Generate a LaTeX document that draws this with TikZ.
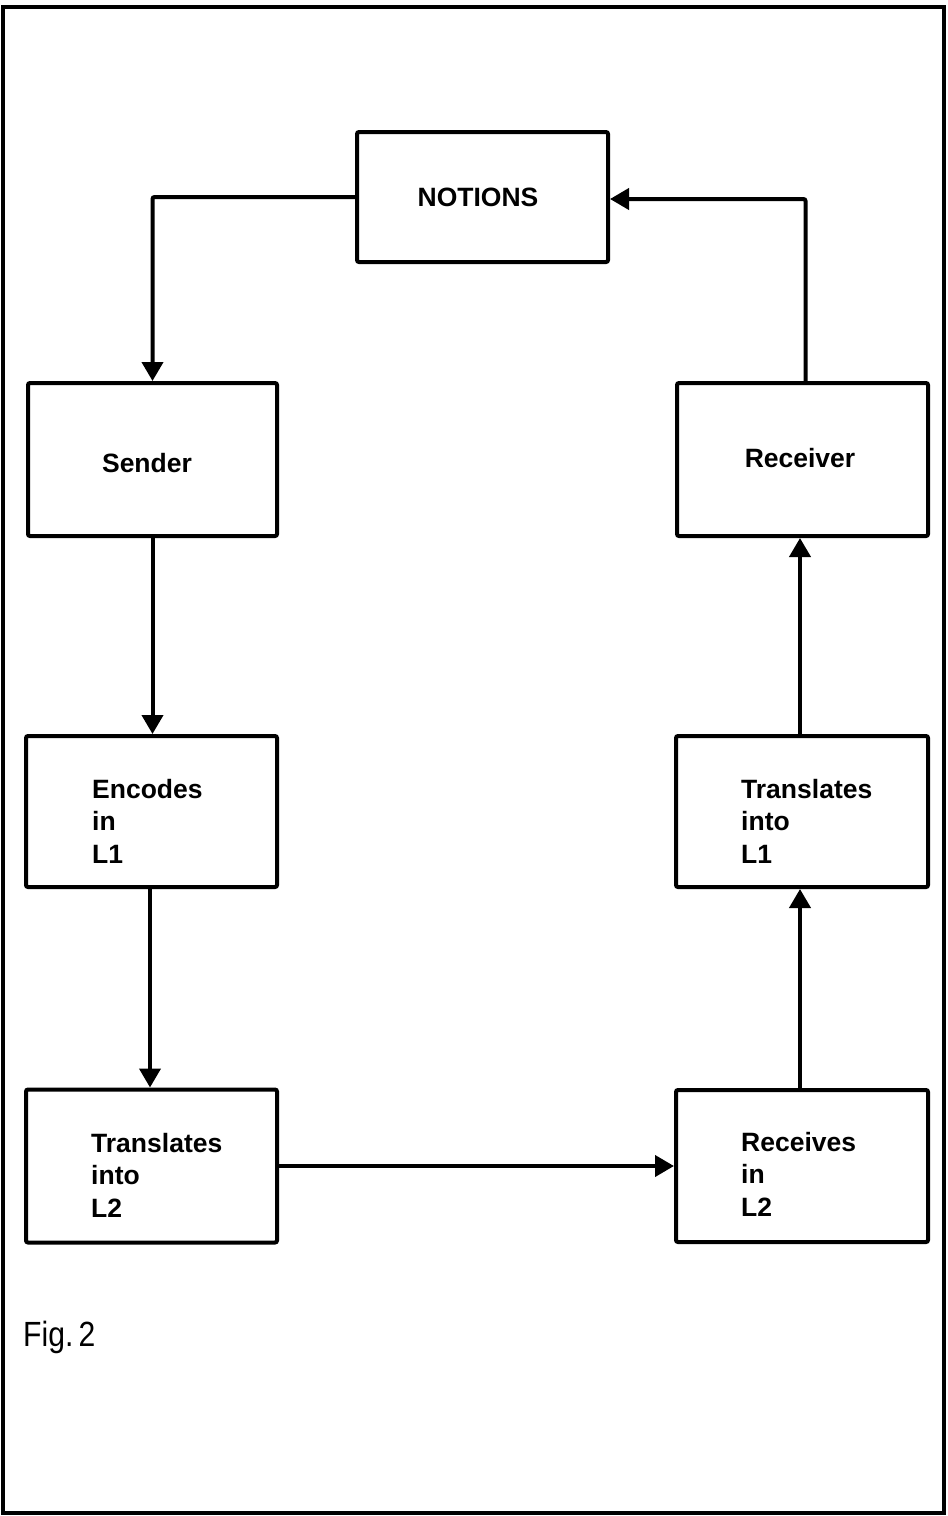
\documentclass[tikz,border=0pt]{standalone}
\usepackage{fontspec}
\setmainfont{Liberation Sans}
\usetikzlibrary{arrows.meta}
\begin{document}
\begin{tikzpicture}[x=1pt,y=-1pt,
  box/.style={draw,line width=4pt,rounded corners=2pt,inner sep=0pt},
  lbl/.style={font=\fontsize{26.5}{32.5}\selectfont\bfseries,inner sep=0pt,align=left},
  conn/.style={line width=4pt,rounded corners=2pt,-{Triangle[length=19pt,width=21pt]}}]
\useasboundingbox (0,0) rectangle (948,1516);
\draw[line width=4pt] (3,1513) -- (3,7) -- (944,7) -- (944,1513) -- cycle;
% boxes
\node[box,minimum width=251pt,minimum height=130pt] (notions) at (482.5,197) {};
\node[box,minimum width=249pt,minimum height=153pt] (sender) at (152.5,459.5) {};
\node[box,minimum width=251pt,minimum height=153pt] (receiver) at (802.5,459.5) {};
\node[box,minimum width=251pt,minimum height=151pt] (enc) at (151.5,811.5) {};
\node[box,minimum width=252pt,minimum height=151pt] (trone) at (802,811.5) {};
\node[box,minimum width=251pt,minimum height=153pt] (trtwo) at (151.5,1166) {};
\node[box,minimum width=252pt,minimum height=152pt] (recv) at (802,1166) {};
% labels
\node[lbl] (tnotions) at (478,197) {NOTIONS};
\node[lbl] (tsender) at (147,463) {Sender};
\node[lbl] (treceiver) at (800,458) {Receiver};
\node[lbl,anchor=west] (tenc) at (92,821) {Encodes\\in\\L1};
\node[lbl,anchor=west] (ttrone) at (741,821) {Translates\\into\\L1};
\node[lbl,anchor=west] (ttrtwo) at (91,1175) {Translates\\into\\L2};
\node[lbl,anchor=west] (trecv) at (741,1174) {Receives\\in\\L2};
\node[anchor=west,inner sep=0pt] (fig) at (23,1337) {\scalebox{0.86}[1]{\fontsize{35}{38}\selectfont Fig.\kern6pt 2}};
% connectors
\draw[conn] (notions.west) -| (sender.north);
\draw[conn] ([xshift=3pt]receiver.north) |- ([yshift=-2pt]notions.east);
\draw[conn] (sender.south) -- (enc.north -| sender.south);
\draw[conn] ([xshift=-1.5pt]enc.south) -- ([xshift=-1.5pt]trtwo.north);
\draw[conn] (trtwo.east) -- (recv.west);
\draw[conn] ([xshift=-2pt]recv.north) -- ([xshift=-2pt]trone.south);
\draw[conn] ([xshift=-2pt]trone.north) -- ([xshift=-2.5pt]receiver.south);
\end{tikzpicture}
\end{document}
